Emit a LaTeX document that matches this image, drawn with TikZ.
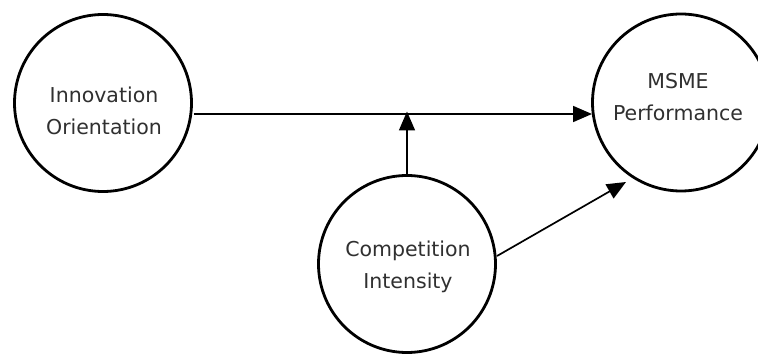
\documentclass[tikz,border=0pt]{standalone}
\usepackage{fontspec}
\setmainfont{DejaVu Sans}
\usetikzlibrary{arrows.meta}
\definecolor{txtgray}{HTML}{303030}
\begin{document}
\begin{tikzpicture}[x=1pt,y=-1pt,
  circ/.style={draw=black,line width=2.8pt,circle,minimum size=177pt,inner sep=0pt},
  lbl/.style={align=center,text=txtgray,font=\fontsize{20.5}{32}\selectfont,inner sep=0pt},
  conn/.style={draw=black,line width=1.7pt,-{Triangle[length=19pt,width=16pt]}},
  plain/.style={draw=black,line width=1.7pt}]
\useasboundingbox (0,0) rectangle (758,355);
\fill[white] (0,0) rectangle (758,355);
\node[circ] (io) at (103,103) {};
\node[circ] (mp) at (681,102.5) {};
\node[circ] (ci) at (407,264) {};
\node[lbl] (iot) at (104,111) {Innovation\\Orientation};
\node[lbl] (mpt) at (678,97) {MSME\\Performance};
\node[lbl] (cit) at (408,267) {Competition\\Intensity};
\coordinate (hl) at (193.5,114);
\coordinate (hr) at (592,114);
\coordinate (vt) at (407,111.5);
\coordinate (dt) at (626,182);
\coordinate (ds) at (497,256);
\draw[conn] (hl) -- (hr);
\draw[conn] (ci.north) -- (vt);
\draw[conn] (ds) -- (dt);
\end{tikzpicture}
\end{document}
